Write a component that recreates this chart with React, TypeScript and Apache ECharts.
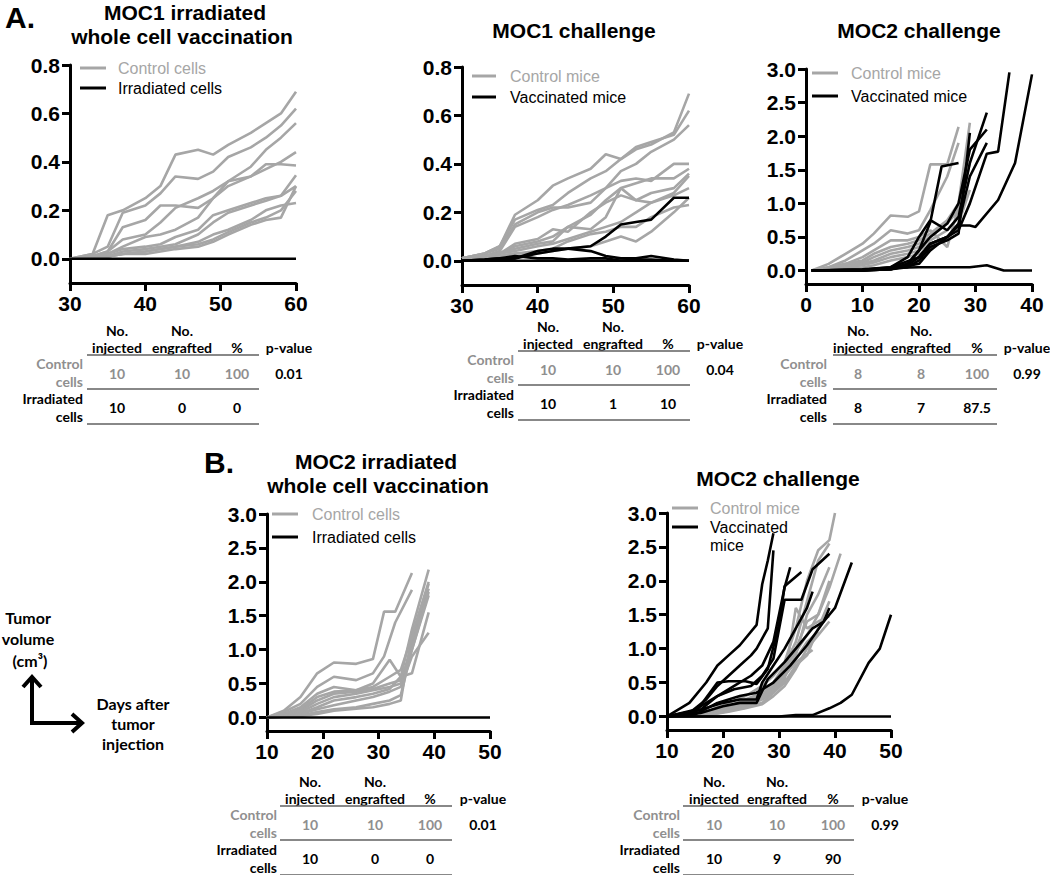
import React, { useEffect, useRef } from "react";
import * as echarts from "echarts";

// ---------- Panel A1: MOC1 irradiated whole cell vaccination ----------
const a1Days = [30, 33, 35, 37, 40, 42, 44, 47, 49, 51, 54, 56, 58, 60];
const a1Control = [
  [0, 0.02, 0.18, 0.2, 0.25, 0.3, 0.43, 0.45, 0.43, 0.47, 0.52, 0.56, 0.6, 0.69],
  [0, 0.02, 0.05, 0.19, 0.22, 0.27, 0.34, 0.33, 0.36, 0.42, 0.46, 0.5, 0.55, 0.62],
  [0, 0.01, 0.03, 0.13, 0.16, 0.22, 0.22, 0.21, 0.25, 0.3, 0.34, 0.39, 0.39, 0.385],
  [0, 0.01, 0.03, 0.08, 0.1, 0.15, 0.21, 0.25, 0.28, 0.32, 0.38, 0.45, 0.5, 0.56],
  [0, 0.01, 0.02, 0.05, 0.09, 0.1, 0.12, 0.17, 0.25, 0.32, 0.34, 0.37, 0.4, 0.44],
  [0, 0.01, 0.02, 0.04, 0.05, 0.06, 0.09, 0.12, 0.18, 0.2, 0.23, 0.25, 0.26, 0.345],
  [0, 0, 0.01, 0.03, 0.04, 0.05, 0.06, 0.1, 0.15, 0.19, 0.22, 0.24, 0.26, 0.3],
  [0, 0, 0.01, 0.02, 0.03, 0.04, 0.05, 0.06, 0.08, 0.11, 0.15, 0.17, 0.2, 0.28],
  [0, 0, 0.01, 0.02, 0.02, 0.03, 0.04, 0.05, 0.07, 0.1, 0.14, 0.16, 0.17, 0.3],
  [0, 0, 0.01, 0.02, 0.03, 0.04, 0.05, 0.07, 0.1, 0.12, 0.16, 0.2, 0.22, 0.23],
];
const a1Irradiated = [
  [0, 0, 0, 0, 0, 0, 0, 0, 0, 0, 0, 0, 0, 0],
];

// ---------- Panel A2: MOC1 challenge ----------
const a2Days = [30, 33, 35, 37, 40, 42, 44, 47, 49, 51, 53, 55, 58, 60];
const a2Control = [
  [0.01, 0.03, 0.06, 0.19, 0.25, 0.31, 0.34, 0.38, 0.44, 0.42, 0.46, 0.48, 0.53, 0.69],
  [0.01, 0.03, 0.06, 0.17, 0.21, 0.23, 0.28, 0.34, 0.37, 0.42, 0.47, 0.49, 0.52, 0.62],
  [0.01, 0.03, 0.05, 0.15, 0.2, 0.22, 0.22, 0.24, 0.3, 0.37, 0.4, 0.45, 0.5, 0.56],
  [0.01, 0.02, 0.04, 0.14, 0.18, 0.21, 0.23, 0.27, 0.3, 0.33, 0.34, 0.33, 0.4, 0.4],
  [0.01, 0.02, 0.03, 0.06, 0.08, 0.1, 0.14, 0.19, 0.25, 0.3, 0.32, 0.34, 0.34, 0.38],
  [0.01, 0.02, 0.03, 0.07, 0.09, 0.13, 0.12, 0.2, 0.24, 0.27, 0.25, 0.28, 0.3, 0.36],
  [0.01, 0.02, 0.03, 0.05, 0.07, 0.08, 0.14, 0.13, 0.18, 0.3, 0.25, 0.24, 0.28, 0.35],
  [0.01, 0.02, 0.03, 0.04, 0.06, 0.07, 0.09, 0.12, 0.14, 0.16, 0.2, 0.24, 0.27, 0.3],
  [0.01, 0.02, 0.02, 0.03, 0.04, 0.05, 0.08, 0.11, 0.12, 0.14, 0.14, 0.18, 0.22, 0.23],
  [0.01, 0.01, 0.02, 0.03, 0.03, 0.04, 0.05, 0.06, 0.08, 0.1, 0.08, 0.12, 0.2, 0.26],
];
const a2Vaccinated = [
  [0, 0, 0.005, 0.01, 0.03, 0.04, 0.05, 0.06, 0.1, 0.15, 0.16, 0.17, 0.26, 0.26],
  [0, 0.005, 0.01, 0.01, 0.04, 0.05, 0.05, 0.04, 0.02, 0.01, 0.01, 0.02, 0.005, 0],
  [0, 0.005, 0.01, 0.02, 0.01, 0.01, 0.005, 0.01, 0.01, 0, 0.005, 0.005, 0, 0],
  [0, 0, 0, 0, 0, 0, 0, 0, 0, 0, 0, 0, 0, 0],
];

// ---------- Panel A3: MOC2 challenge ([day, volume]) ----------
const a3Control = [
  [[1, 0], [4, 0.1], [7, 0.25], [10, 0.4], [12, 0.55], [15, 0.82], [18, 0.8], [20, 0.88], [22, 1.58], [25, 1.58], [27, 2.14]],
  [[1, 0], [4, 0.05], [7, 0.15], [10, 0.3], [12, 0.4], [15, 0.6], [18, 0.55], [20, 0.6], [22, 0.9], [25, 1.4], [27, 1.9]],
  [[1, 0], [4, 0.05], [7, 0.1], [10, 0.2], [12, 0.3], [15, 0.45], [18, 0.45], [20, 0.5], [22, 0.6], [25, 0.35], [27, 0.95]],
  [[1, 0], [4, 0.03], [7, 0.1], [10, 0.15], [12, 0.25], [15, 0.35], [18, 0.4], [20, 0.45], [22, 0.55], [25, 0.75], [27, 1.0], [29, 2.2]],
  [[1, 0], [4, 0.03], [7, 0.08], [10, 0.12], [12, 0.2], [15, 0.3], [18, 0.35], [20, 0.4], [22, 0.5], [25, 0.7], [27, 0.9], [29, 1.6]],
  [[1, 0], [4, 0.02], [7, 0.05], [10, 0.1], [12, 0.15], [15, 0.25], [18, 0.3], [20, 0.35], [22, 0.45], [25, 0.6], [27, 0.8]],
  [[1, 0], [4, 0.02], [7, 0.05], [10, 0.08], [12, 0.12], [15, 0.2], [18, 0.25], [20, 0.3], [22, 0.4], [25, 0.5], [27, 0.7], [29, 1.2]],
  [[1, 0], [4, 0.01], [7, 0.03], [10, 0.05], [12, 0.08], [15, 0.15], [18, 0.2], [20, 0.25], [22, 0.35], [25, 0.5], [27, 0.65]],
];
const a3Vaccinated = [
  [[1, 0], [10, 0], [15, 0.04], [20, 0.05], [25, 0.05], [29, 0.05], [32, 0.08], [35, 0], [37, 0], [40, 0]],
  [[1, 0], [10, 0], [15, 0.02], [20, 0.1], [22, 0.3], [25, 0.5], [27, 0.67], [29, 0.67], [30, 0.65], [34, 1.05], [37, 1.6], [40, 2.92]],
  [[1, 0], [10, 0.02], [15, 0.05], [20, 0.2], [22, 0.4], [25, 0.5], [27, 0.6], [29, 1.0], [32, 1.74], [34, 1.77], [36, 2.95]],
  [[1, 0], [10, 0.01], [15, 0.05], [18, 0.2], [20, 0.5], [22, 0.75], [25, 0.6], [27, 0.8], [29, 1.6], [32, 2.35]],
  [[1, 0], [10, 0.01], [15, 0.03], [18, 0.1], [20, 0.3], [22, 0.5], [25, 0.7], [27, 1.0], [29, 1.8], [32, 2.1]],
  [[1, 0], [10, 0.01], [15, 0.02], [18, 0.08], [20, 0.2], [22, 0.4], [25, 0.5], [27, 0.7], [29, 1.4], [32, 1.9]],
  [[1, 0], [10, 0], [15, 0.02], [18, 0.1], [20, 0.3], [22, 0.72], [24, 1.55], [27, 1.6]],
  [[1, 0], [10, 0], [15, 0.02], [18, 0.05], [20, 0.15], [22, 0.35], [25, 0.45], [27, 0.55], [29, 2.05]],
];

// ---------- Panel B1: MOC2 irradiated whole cell vaccination ----------
const b1Control = [
  [[10, 0], [13, 0.1], [16, 0.3], [19, 0.65], [22, 0.81], [26, 0.79], [29, 0.86], [31, 1.56], [33, 1.56], [36, 2.13]],
  [[10, 0], [13, 0.08], [16, 0.2], [19, 0.45], [22, 0.6], [26, 0.55], [29, 0.65], [31, 0.9], [33, 1.4], [36, 1.88]],
  [[10, 0], [13, 0.05], [16, 0.15], [19, 0.35], [22, 0.45], [26, 0.4], [29, 0.5], [32, 0.85], [34, 0.6], [36, 1.3], [39, 2.18]],
  [[10, 0], [13, 0.05], [16, 0.12], [19, 0.3], [22, 0.38], [26, 0.4], [29, 0.45], [32, 0.6], [34, 0.7], [36, 1.2], [39, 1.97]],
  [[10, 0], [13, 0.03], [16, 0.1], [19, 0.25], [22, 0.35], [26, 0.38], [29, 0.42], [32, 0.5], [34, 0.55], [36, 1.0], [39, 1.8]],
  [[10, 0], [13, 0.03], [16, 0.08], [19, 0.2], [22, 0.3], [26, 0.35], [29, 0.4], [32, 0.45], [34, 0.5], [36, 1.1], [39, 1.9]],
  [[10, 0], [13, 0.02], [16, 0.06], [19, 0.15], [22, 0.25], [26, 0.3], [29, 0.35], [32, 0.42], [34, 0.6], [36, 0.65], [39, 1.55]],
  [[10, 0], [13, 0.02], [16, 0.05], [19, 0.12], [22, 0.18], [26, 0.25], [29, 0.3], [32, 0.38], [34, 0.45], [36, 0.9], [39, 1.25]],
  [[10, 0], [13, 0.01], [16, 0.03], [19, 0.08], [22, 0.12], [26, 0.15], [29, 0.2], [32, 0.25], [34, 0.33], [36, 1.0], [39, 1.85]],
  [[10, 0], [13, 0.01], [16, 0.02], [19, 0.05], [22, 0.1], [26, 0.13], [29, 0.15], [32, 0.2], [34, 0.25], [36, 1.2], [39, 2.0]],
];
const b1Irradiated = [
  [[10, 0], [20, 0], [30, 0], [40, 0], [50, 0]],
];

// ---------- Panel B2: MOC2 challenge ----------
const b2Control = [
  [[10, 0], [14, 0.02], [18, 0.1], [21, 0.2], [24, 0.3], [27, 0.45], [29, 0.6], [31, 0.8], [33, 1.3], [35, 2.0], [37, 2.45], [39, 2.6], [40, 3.0]],
  [[10, 0], [14, 0.02], [18, 0.08], [21, 0.15], [24, 0.25], [27, 0.35], [29, 0.5], [31, 0.75], [33, 1.1], [35, 1.7], [37, 2.3], [39, 2.55]],
  [[10, 0], [14, 0.01], [18, 0.06], [21, 0.12], [24, 0.2], [27, 0.3], [29, 0.45], [31, 0.65], [33, 1.0], [35, 1.4], [37, 1.5], [39, 1.9], [41, 2.4]],
  [[10, 0], [14, 0.01], [18, 0.05], [21, 0.1], [24, 0.18], [27, 0.28], [29, 0.4], [31, 0.6], [33, 0.8], [36, 0.98]],
  [[10, 0], [14, 0.01], [18, 0.04], [21, 0.08], [24, 0.15], [27, 0.25], [29, 0.35], [31, 0.55], [33, 1.6], [35, 1.3], [37, 1.4], [39, 1.48]],
  [[10, 0], [14, 0.02], [18, 0.07], [21, 0.14], [24, 0.22], [27, 0.33], [29, 0.5], [31, 0.7], [33, 0.95], [35, 1.2], [37, 1.5], [39, 2.0]],
  [[10, 0], [14, 0.01], [18, 0.05], [21, 0.12], [24, 0.2], [27, 0.3], [29, 0.42], [31, 0.6], [33, 0.85], [35, 1.1], [37, 1.25]],
  [[10, 0], [14, 0.01], [18, 0.03], [21, 0.08], [24, 0.13], [27, 0.2], [29, 0.35], [31, 0.5], [33, 0.75], [35, 0.9], [37, 1.3], [39, 1.7]],
  [[10, 0], [14, 0.01], [18, 0.04], [21, 0.1], [24, 0.17], [27, 0.27], [29, 0.38], [31, 0.58], [33, 0.9], [35, 1.5], [37, 1.8], [39, 2.2]],
  [[10, 0], [14, 0.01], [18, 0.03], [21, 0.07], [24, 0.12], [27, 0.18], [29, 0.3], [31, 0.45], [33, 0.7], [35, 1.0], [37, 1.2], [39, 1.4]],
];
const b2Vaccinated = [
  [[10, 0], [14, 0.2], [17, 0.5], [19, 0.75], [21, 0.9], [23, 1.05], [26, 1.35], [27, 1.95], [28, 2.3], [29, 2.7]],
  [[10, 0], [14, 0.05], [17, 0.25], [19, 0.45], [21, 0.6], [23, 0.75], [25, 0.9], [26, 1.0], [28, 1.3], [29, 2.45]],
  [[10, 0], [15, 0.1], [19, 0.3], [22, 0.45], [25, 0.6], [27, 0.75], [29, 1.1], [31, 1.9], [32, 2.2]],
  [[10, 0], [15, 0.05], [19, 0.5], [21, 0.52], [24, 0.52], [26, 0.48], [28, 0.7], [30, 1.35], [31, 1.92], [34, 2.13]],
  [[10, 0], [16, 0.1], [19, 0.3], [22, 0.4], [25, 0.45], [27, 0.6], [29, 0.85], [31, 1.72], [34, 1.72], [36, 2.17], [39, 2.4]],
  [[10, 0], [15, 0.03], [19, 0.2], [23, 0.3], [26, 0.35], [29, 0.5], [32, 0.75], [35, 1.05], [38, 1.4], [40, 1.6], [43, 2.27]],
  [[10, 0], [16, 0.1], [20, 0.2], [23, 0.25], [26, 0.25], [27, 0.5], [29, 0.75], [31, 1.0], [33, 1.3], [35, 1.6], [36, 1.84]],
  [[10, 0], [16, 0.05], [20, 0.15], [23, 0.2], [26, 0.2], [28, 0.55], [31, 0.8], [34, 1.1], [36, 1.3], [38, 1.4], [39, 1.6]],
  [[10, 0], [25, 0], [30, 0], [33, 0.02], [36, 0.02], [39, 0.12], [41, 0.2], [43, 0.32], [46, 0.79], [48, 1.0], [50, 1.5]],
  [[10, 0], [20, 0], [30, 0], [40, 0], [50, 0]],
];

// ---------- Tick values ----------
const yTicksSmall = [0, 0.2, 0.4, 0.6, 0.8];
const yTicksLarge = [0, 0.5, 1.0, 1.5, 2.0, 2.5, 3.0];

// ---------- Tables ----------
const tableHeadTop = ["No.", "No.", ""];
const tableHeadBottom = ["injected", "engrafted", "%"];
const a1TableControl = ["10", "10", "100"];
const a1TableTreated = ["10", "0", "0"];
const a1P = "0.01";
const a2TableControl = ["10", "10", "100"];
const a2TableTreated = ["10", "1", "10"];
const a2P = "0.04";
const a3TableControl = ["8", "8", "100"];
const a3TableTreated = ["8", "7", "87.5"];
const a3P = "0.99";
const b1TableControl = ["10", "10", "100"];
const b1TableTreated = ["10", "0", "0"];
const b1P = "0.01";
const b2TableControl = ["10", "10", "100"];
const b2TableTreated = ["10", "9", "90"];
const b2P = "0.99";

const GRAY = "#a6a6a6";
const TGRAY = "#8f8f8f";
const ARIAL = '"Liberation Sans", Arial, sans-serif';
const CAL = 'Lato, "Open Sans", sans-serif';

function txt(x: number, y: number, text: string, font: string, fill = "#000", align = "center") {
  return {
    type: "text",
    x,
    y,
    silent: true,
    style: {
      text,
      font,
      fill,
      align,
      textAlign: align,
      verticalAlign: "middle",
      textVerticalAlign: "middle",
    },
  };
}

function hline(x1: number, x2: number, y: number, stroke: string, lineWidth: number) {
  return {
    type: "line",
    silent: true,
    shape: { x1, y1: y, x2, y2: y },
    style: { stroke, lineWidth },
  };
}

function legend(x1: number, x2: number, tx: number, y1: number, y2: number, l1: string, l2: string[]) {
  const f = `16px ${ARIAL}`;
  const out: any[] = [
    hline(x1, x2, y1, GRAY, 3),
    txt(tx, y1, l1, f, GRAY, "left"),
    hline(x1, x2, y2, "#000", 3),
  ];
  l2.forEach((s, i) => out.push(txt(tx, y2 + i * 18, s, f, "#000", "left")));
  return out;
}

function table(
  yNo: number,
  left: number,
  right: number,
  cols: number[],
  pX: number,
  labelRight: number,
  ctrl: string[],
  trt: string[],
  p: string
) {
  const fb = `bold 14px ${CAL}`;
  const out: any[] = [];
  cols.forEach((cx, i) => {
    if (tableHeadTop[i]) out.push(txt(cx, yNo, tableHeadTop[i], fb));
    out.push(txt(cx, yNo + 17, tableHeadBottom[i], fb));
  });
  out.push(txt(pX, yNo + 17, "p-value", fb));
  out.push(hline(left, right, yNo + 25, "#606060", 1.6));
  out.push(txt(labelRight, yNo + 33, "Control", fb, TGRAY, "right"));
  out.push(txt(labelRight, yNo + 51, "cells", fb, TGRAY, "right"));
  cols.forEach((cx, i) => out.push(txt(cx, yNo + 43, ctrl[i], fb, TGRAY)));
  out.push(txt(pX, yNo + 43, p, fb));
  out.push(hline(left, right, yNo + 59, "#606060", 1.6));
  out.push(txt(labelRight, yNo + 68, "Irradiated", fb, "#000", "right"));
  out.push(txt(labelRight, yNo + 86, "cells", fb, "#000", "right"));
  cols.forEach((cx, i) => out.push(txt(cx, yNo + 77, trt[i], fb)));
  out.push(hline(left, right, yNo + 94, "#606060", 1.6));
  return out;
}

const labelStyle = { color: "#000", fontSize: 21, fontWeight: "bold", fontFamily: ARIAL };

function daysToPairs(days: number[], vals: number[]) {
  return vals.map((v, k) => [days[k], v]);
}

const panels = [
  {
    grid: { left: 70, top: 65, width: 226, height: 218 },
    x: [30, 60], y: [-0.1, 0.8], yt: yTicksSmall,
    control: a1Control.map((r) => daysToPairs(a1Days, r)),
    treated: a1Irradiated.map((r) => daysToPairs(a1Days, r)),
  },
  {
    grid: { left: 462, top: 67, width: 227, height: 218 },
    x: [30, 60], y: [-0.1, 0.8], yt: yTicksSmall,
    control: a2Control.map((r) => daysToPairs(a2Days, r)),
    treated: a2Vaccinated.map((r) => daysToPairs(a2Days, r)),
  },
  {
    grid: { left: 806, top: 69, width: 226, height: 215 },
    x: [0, 40], y: [-0.2, 3.0], yt: yTicksLarge,
    control: a3Control, treated: a3Vaccinated,
  },
  {
    grid: { left: 267, top: 514, width: 223, height: 217 },
    x: [10, 50], y: [-0.2, 3.0], yt: yTicksLarge,
    control: b1Control, treated: b1Irradiated,
  },
  {
    grid: { left: 667, top: 513, width: 224, height: 217 },
    x: [10, 50], y: [-0.2, 3.0], yt: yTicksLarge,
    control: b2Control, treated: b2Vaccinated,
  },
];

function panelOption(p: any) {
  const series: any[] = [];
  p.control.forEach((d: number[][]) =>
    series.push({ type: "line", data: d, symbol: "none", lineStyle: { color: GRAY, width: 2.6 } })
  );
  p.treated.forEach((d: number[][]) =>
    series.push({ type: "line", data: d, symbol: "none", lineStyle: { color: "#000", width: 2.6 } })
  );
  return {
    animation: false,
    grid: p.grid,
    xAxis: {
      type: "value",
      min: p.x[0],
      max: p.x[1],
      interval: 10,
      axisLine: { show: true, onZero: false, lineStyle: { color: "#000", width: 3 } },
      axisTick: { show: true, length: 8, lineStyle: { color: "#000", width: 3 } },
      axisLabel: { ...labelStyle, margin: 10 },
      splitLine: { show: false },
    },
    yAxis: {
      type: "value",
      min: p.y[0],
      max: p.y[1],
      axisLine: { show: true, onZero: false, lineStyle: { color: "#000", width: 3 } },
      axisTick: { show: true, length: 8, customValues: p.yt, lineStyle: { color: "#000", width: 3 } },
      axisLabel: { ...labelStyle, margin: 10, customValues: p.yt, formatter: (v: number) => v.toFixed(1) },
      splitLine: { show: false },
    },
    series,
  };
}

const layerStyle: React.CSSProperties = {
  position: "absolute",
  left: 0,
  top: 0,
  width: 1050,
  height: 875,
  pointerEvents: "none",
};

export default function App() {
  const panelRefs = useRef<(HTMLDivElement | null)[]>([]);
  const overlayRef = useRef<HTMLDivElement>(null);
  useEffect(() => {
    const charts: any[] = [];
    panels.forEach((p, i) => {
      const el = panelRefs.current[i];
      if (!el) return;
      const c = echarts.init(el, null, { renderer: "svg" });
      c.setOption(panelOption(p));
      charts.push(c);
    });

    const title = `bold 21px ${ARIAL}`;
    const letter = `bold 30px ${ARIAL}`;
    const side = `bold 16px ${CAL}`;
    const graphics: any[] = [
      txt(5, 17, "A.", letter, "#000", "left"),
      txt(185, 12, "MOC1 irradiated", title),
      txt(182, 36, "whole cell vaccination", title),
      txt(574, 30, "MOC1 challenge", title),
      txt(919, 30, "MOC2 challenge", title),
      txt(204, 462, "B.", letter, "#000", "left"),
      txt(376, 461, "MOC2 irradiated", title),
      txt(378, 485, "whole cell vaccination", title),
      txt(778, 478, "MOC2 challenge", title),
      ...legend(80, 106, 118, 68, 88, "Control cells", ["Irradiated cells"]),
      ...legend(472, 496, 510, 76, 97, "Control mice", ["Vaccinated mice"]),
      ...legend(812, 838, 851, 73, 96, "Control mice", ["Vaccinated mice"]),
      ...legend(272, 298, 312, 514, 537, "Control cells", ["Irradiated cells"]),
      ...legend(672, 698, 710, 508, 527, "Control mice", ["Vaccinated", "mice"]),
      ...table(330, 87, 259, [117, 182, 237], 289, 83, a1TableControl, a1TableTreated, a1P),
      ...table(326, 518, 690, [548, 613, 668], 720, 514, a2TableControl, a2TableTreated, a2P),
      ...table(330, 833, 997, [858, 921, 977], 1027, 827, a3TableControl, a3TableTreated, a3P),
      ...table(781, 280, 452, [310, 375, 430], 483, 277, b1TableControl, b1TableTreated, b1P),
      ...table(781, 683, 854, [714, 777, 833], 885, 680, b2TableControl, b2TableTreated, b2P),
      txt(28, 617, "Tumor", side),
      txt(28, 638, "volume", side),
      txt(30, 660, "(cm³)", side),
      {
        type: "polyline",
        silent: true,
        shape: { points: [[32, 677], [32, 723], [82, 723]] },
        style: { stroke: "#000", lineWidth: 4, fill: null },
      },
      {
        type: "polyline",
        silent: true,
        shape: { points: [[23, 687], [32, 677], [41, 687]] },
        style: { stroke: "#000", lineWidth: 4, fill: null },
      },
      {
        type: "polyline",
        silent: true,
        shape: { points: [[72, 714], [82, 723], [72, 732]] },
        style: { stroke: "#000", lineWidth: 4, fill: null },
      },
      txt(133, 703, "Days after", side),
      txt(133, 723, "tumor", side),
      txt(133, 743, "injection", side),
    ];
    if (overlayRef.current) {
      const o = echarts.init(overlayRef.current, null, { renderer: "svg" });
      o.setOption({ animation: false, graphic: graphics });
      charts.push(o);
    }
    return () => charts.forEach((c) => c.dispose());
  }, []);
  return (
    <div style={{ position: "absolute", left: 0, top: 0, width: 1050, height: 875, background: "#fff" }}>
      {panels.map((_, i) => (
        <div key={i} ref={(el) => { panelRefs.current[i] = el; }} style={layerStyle} />
      ))}
      <div ref={overlayRef} style={layerStyle} />
    </div>
  );
}
